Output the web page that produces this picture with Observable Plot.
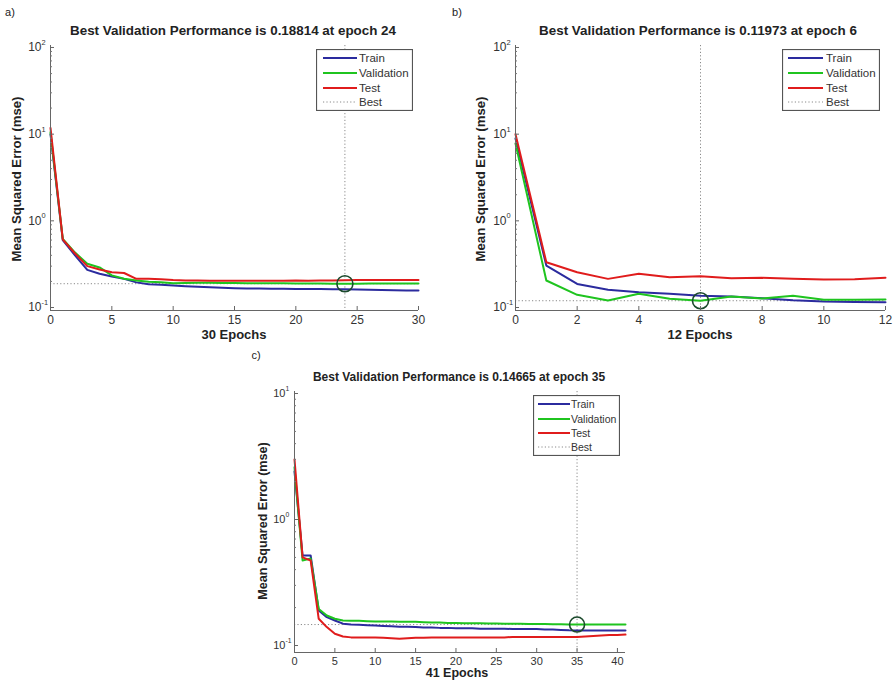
<!DOCTYPE html>
<html><head><meta charset="utf-8">
<script src="https://cdn.jsdelivr.net/npm/d3@7"></script>
<script src="https://cdn.jsdelivr.net/npm/@observablehq/plot@0.6"></script>
<style>
body{margin:0;background:#fff;font-family:"Liberation Sans",Arial,Helvetica,sans-serif;}
#root{position:relative;width:894px;height:685px;overflow:hidden;background:#fff;}
.c{position:absolute;transform:translate(-50%,-50%);white-space:nowrap;color:#222;}
.b{font-weight:bold;}
.rot{transform:translate(-50%,-50%) rotate(-90deg);}
</style></head>
<body><div id="root"></div>
<script>
// ---------------- data ----------------
const seriesNames = ["Train", "Validation", "Test"];
const seriesColors = ["#2b2b9e", "#1fc41f", "#e01c1c"];

// Panel a) 30 epochs
const trainA = [10.0, 0.60, 0.40, 0.272, 0.245, 0.228, 0.214, 0.195, 0.186, 0.183, 0.180, 0.176, 0.173, 0.171, 0.169, 0.167, 0.166, 0.166, 0.165, 0.165, 0.164, 0.164, 0.163, 0.162, 0.162, 0.161, 0.160, 0.159, 0.158, 0.157, 0.157];
const validA = [10.5, 0.62, 0.43, 0.32, 0.29, 0.235, 0.215, 0.205, 0.198, 0.195, 0.190, 0.192, 0.193, 0.193, 0.192, 0.192, 0.191, 0.191, 0.190, 0.190, 0.1895, 0.1892, 0.1888, 0.1885, 0.18814, 0.1884, 0.1886, 0.1887, 0.1888, 0.1889, 0.189];
const testA  = [11.8, 0.61, 0.42, 0.30, 0.275, 0.255, 0.250, 0.214, 0.214, 0.212, 0.207, 0.205, 0.205, 0.204, 0.204, 0.204, 0.204, 0.204, 0.204, 0.204, 0.205, 0.204, 0.205, 0.205, 0.206, 0.207, 0.208, 0.208, 0.208, 0.208, 0.208];
const bestA = {epoch: 24, value: 0.18814, epochs: 30};

// Panel b) 12 epochs
const trainB = [8.9, 0.305, 0.187, 0.160, 0.150, 0.144, 0.137, 0.134, 0.128, 0.121, 0.117, 0.116, 0.115];
const validB = [7.8, 0.205, 0.140, 0.1205, 0.144, 0.126, 0.11973, 0.134, 0.127, 0.137, 0.123, 0.123, 0.124];
const testB  = [10.0, 0.333, 0.255, 0.214, 0.245, 0.223, 0.230, 0.218, 0.220, 0.214, 0.210, 0.212, 0.220];
const bestB = {epoch: 6, value: 0.11973, epochs: 12};

// Panel c) 41 epochs
const trainC = [2.4, 0.518, 0.518, 0.190, 0.168, 0.158, 0.149, 0.147, 0.146, 0.145, 0.144, 0.143, 0.142, 0.141, 0.141, 0.140, 0.139, 0.139, 0.138, 0.138, 0.137, 0.137, 0.137, 0.136, 0.136, 0.136, 0.136, 0.135, 0.135, 0.135, 0.135, 0.134, 0.134, 0.133, 0.132, 0.1315, 0.1315, 0.1315, 0.1315, 0.1315, 0.1315, 0.1315];
const validC = [2.6, 0.473, 0.490, 0.195, 0.173, 0.163, 0.158, 0.157, 0.157, 0.156, 0.155, 0.155, 0.155, 0.154, 0.154, 0.154, 0.153, 0.152, 0.152, 0.151, 0.151, 0.150, 0.150, 0.150, 0.1498, 0.1495, 0.149, 0.1488, 0.1485, 0.1482, 0.148, 0.1478, 0.1475, 0.1472, 0.147, 0.14665, 0.1468, 0.1469, 0.147, 0.147, 0.1471, 0.1471];
const testC  = [3.0, 0.500, 0.473, 0.163, 0.140, 0.124, 0.118, 0.116, 0.116, 0.116, 0.116, 0.115, 0.114, 0.113, 0.114, 0.115, 0.115, 0.116, 0.116, 0.116, 0.116, 0.116, 0.116, 0.116, 0.116, 0.116, 0.116, 0.117, 0.117, 0.117, 0.117, 0.117, 0.117, 0.117, 0.117, 0.117, 0.118, 0.119, 0.120, 0.121, 0.121, 0.122];
const bestC = {epoch: 35, value: 0.14665, epochs: 41};

// ticks
const xTicksA = [0, 5, 10, 15, 20, 25, 30];
const xTicksB = [0, 2, 4, 6, 8, 10, 12];
const xTicksC = [0, 5, 10, 15, 20, 25, 30, 35, 40];
const yMajorAB = [0.1, 1, 10, 100];
const yMajorC = [0.1, 1, 10];
const minorMult = [2, 3, 4, 5, 6, 7, 8, 9];
const legendLabels = ["Train", "Validation", "Test", "Best"];

// ---------------- drawing ----------------
const root = document.getElementById("root");
const FONT = "Liberation Sans, Arial, Helvetica, sans-serif";

function toRows(tr, va, te) {
  const rows = [];
  [tr, va, te].forEach((arr, k) => arr.forEach((v, i) => rows.push({epoch: i, mse: v, series: seriesNames[k]})));
  return rows;
}

function panel(cfg) {
  const rows = toRows(cfg.train, cfg.valid, cfg.test);
  const innerW = cfg.w - cfg.ml - cfg.mr;
  const decades = cfg.majors.slice(0, -1);
  const minors = [];
  decades.forEach(d => minorMult.forEach(m => { if (d * m < cfg.ydom[1]) minors.push(d * m); }));
  const plot = Plot.plot({
    width: cfg.w, height: cfg.h,
    marginLeft: cfg.ml, marginRight: cfg.mr, marginTop: cfg.mt, marginBottom: cfg.mb,
    style: {fontFamily: FONT, fontSize: cfg.fs + "px", color: "#333", background: "transparent", overflow: "visible"},
    x: {domain: [0, cfg.best.epochs], axis: null},
    y: {type: "log", domain: cfg.ydom, axis: null},
    color: {domain: seriesNames, range: seriesColors},
    marks: [
      Plot.ruleY([cfg.best.value], {stroke: "#8a8a8a", strokeWidth: 1, strokeDasharray: "1.2,2.2"}),
      Plot.ruleX([cfg.best.epoch], {stroke: "#8a8a8a", strokeWidth: 1, strokeDasharray: "1.2,2.2"}),
      Plot.line(rows, {x: "epoch", y: "mse", z: "series", stroke: "series", strokeWidth: 2}),
      Plot.dot([cfg.best], {x: "epoch", y: "value", r: cfg.r, stroke: "#1b4a2c", strokeWidth: 1.6, fill: "none"}),
      Plot.ruleX([0], {stroke: "#666"}),
      Plot.ruleY([cfg.ydom[0]], {stroke: "#666"}),
      Plot.tickX(cfg.xticks, {x: d => d, stroke: "#666", insetTop: (cfg.h - cfg.mt - cfg.mb) - 4}),
      Plot.tickY(cfg.majors, {y: d => d, stroke: "#666", insetRight: innerW - 4}),
      Plot.tickY(minors, {y: d => d, stroke: "#777", insetRight: innerW - 2}),
      Plot.text(cfg.xticks, {x: d => d, text: d => String(d), frameAnchor: "bottom", lineAnchor: "top", dy: 5, fontSize: cfg.fs, fill: "#333"}),
      Plot.text(cfg.majors, {y: d => d, text: () => "10", frameAnchor: "left", textAnchor: "end", dx: -9, fontSize: cfg.fs, fill: "#333"}),
      Plot.text(cfg.majors, {y: d => d, text: d => String(Math.round(Math.log10(d))), frameAnchor: "left", textAnchor: "start", dx: -9, dy: -5, fontSize: cfg.fs * 0.62, fill: "#333"})
    ]
  });
  plot.style.position = "absolute";
  plot.style.left = cfg.left + "px";
  plot.style.top = cfg.top + "px";
  root.appendChild(plot);
}

function text(str, x, y, size, bold, rotate) {
  const d = document.createElement("div");
  d.className = "c" + (bold ? " b" : "") + (rotate ? " rot" : "");
  d.style.left = x + "px"; d.style.top = y + "px"; d.style.fontSize = size + "px";
  d.textContent = str;
  root.appendChild(d);
}

function legend(L) {
  const ns = "http://www.w3.org/2000/svg";
  const svg = document.createElementNS(ns, "svg");
  svg.setAttribute("width", L.w); svg.setAttribute("height", L.h);
  svg.style.position = "absolute"; svg.style.left = L.x + "px"; svg.style.top = L.y + "px";
  const rect = document.createElementNS(ns, "rect");
  rect.setAttribute("x", 0.5); rect.setAttribute("y", 0.5);
  rect.setAttribute("width", L.w - 1); rect.setAttribute("height", L.h - 1);
  rect.setAttribute("fill", "#fff"); rect.setAttribute("stroke", "#555"); rect.setAttribute("stroke-width", 1.2);
  svg.appendChild(rect);
  legendLabels.forEach((lab, i) => {
    const y = L.rows[i];
    const ln = document.createElementNS(ns, "line");
    ln.setAttribute("x1", L.l1); ln.setAttribute("x2", L.l2); ln.setAttribute("y1", y); ln.setAttribute("y2", y);
    if (i < 3) { ln.setAttribute("stroke", seriesColors[i]); ln.setAttribute("stroke-width", 2); }
    else { ln.setAttribute("stroke", "#8a8a8a"); ln.setAttribute("stroke-width", 1); ln.setAttribute("stroke-dasharray", "1.2,2.2"); }
    svg.appendChild(ln);
    const t = document.createElementNS(ns, "text");
    t.setAttribute("x", L.tx); t.setAttribute("y", y); t.setAttribute("dy", "0.35em");
    t.setAttribute("font-family", FONT); t.setAttribute("font-size", L.fs); t.setAttribute("fill", "#333");
    t.textContent = lab;
    svg.appendChild(t);
  });
  root.appendChild(svg);
}

// Panel a
panel({left: 0, top: 0, w: 440, h: 340, ml: 50, mr: 22, mt: 45, mb: 30, fs: 12, r: 8,
  train: trainA, valid: validA, test: testA, best: bestA, xticks: xTicksA, majors: yMajorAB,
  ydom: [Math.pow(10, -1 - 3 / 86.7), Math.pow(10, 2 + 2 / 86.7)]});
// Panel b
panel({left: 440, top: 0, w: 454, h: 340, ml: 75, mr: 9, mt: 45, mb: 30, fs: 12, r: 8,
  train: trainB, valid: validB, test: testB, best: bestB, xticks: xTicksB, majors: yMajorAB,
  ydom: [Math.pow(10, -1 - 3 / 86.7), Math.pow(10, 2 + 2 / 86.7)]});
// Panel c
panel({left: 240, top: 350, w: 400, h: 335, ml: 54, mr: 15, mt: 41, mb: 33, fs: 11, r: 7.5,
  train: trainC, valid: validC, test: testC, best: bestC, xticks: xTicksC, majors: yMajorC,
  ydom: [Math.pow(10, -1 - 7 / 126), Math.pow(10, 1 + 2 / 126)]});

legend({x: 316, y: 49, w: 97, h: 62, rows: [9, 24, 39, 53], l1: 7, l2: 41, tx: 43, fs: 11.5});
legend({x: 782, y: 49, w: 98, h: 62, rows: [9, 24, 39, 53], l1: 6, l2: 41, tx: 44, fs: 11.5});
legend({x: 533, y: 395, w: 87, h: 61, rows: [9, 24, 38, 52], l1: 5, l2: 37, tx: 38, fs: 10.5});

text("a)", 10, 12, 11, false);
text("b)", 457, 12, 11, false);
text("c)", 256, 355, 11, false);

text("Best Validation Performance is " + bestA.value + " at epoch " + bestA.epoch, 233, 30, 13.4, true);
text("Best Validation Performance is " + bestB.value + " at epoch " + bestB.epoch, 698, 30, 13.4, true);
text("Best Validation Performance is " + bestC.value + " at epoch " + bestC.epoch, 459, 377, 12, true);

text("Mean Squared Error  (mse)", 16, 179, 13.2, true, true);
text("Mean Squared Error  (mse)", 480, 179, 13.2, true, true);
text("Mean Squared Error  (mse)", 263, 521, 12.6, true, true);

text(bestA.epochs + " Epochs", 234, 334, 13, true);
text(bestB.epochs + " Epochs", 700, 334, 13, true);
text(bestC.epochs + " Epochs", 457, 673, 12.5, true);
</script>
</body></html>
